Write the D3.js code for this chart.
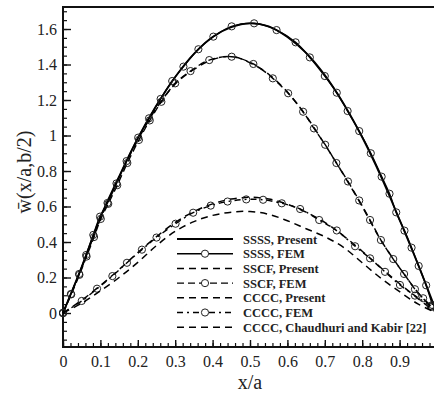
<!DOCTYPE html>
<html>
<head>
<meta charset="utf-8">
<script src="https://d3js.org/d3.v7.min.js"></script>
<style>
  body { margin: 0; background: #fff; }
  text { font-family: "Liberation Serif", "Times New Roman", serif; fill: #222; }
</style>
</head>
<body>
<svg id="chart" width="434" height="394"></svg>
<script>
// deflection along the centre line

// GLOBAL DATA
var xs = [0, 0.05, 0.1, 0.15, 0.2, 0.25, 0.3, 0.35, 0.4, 0.45, 0.5, 0.55, 0.6, 0.65, 0.7, 0.75, 0.8, 0.85, 0.9, 0.95, 1];
var ssssPresent = [0, 0.26, 0.54, 0.77, 0.985, 1.17, 1.33, 1.46, 1.555, 1.61, 1.632, 1.615, 1.555, 1.465, 1.34, 1.18, 0.99, 0.77, 0.525, 0.27, 0];
var sscfPresent = [0, 0.255, 0.53, 0.765, 0.975, 1.155, 1.29, 1.372, 1.428, 1.445, 1.41, 1.345, 1.245, 1.11, 0.95, 0.78, 0.6, 0.41, 0.255, 0.113, 0];
var ccccPresent = [0, 0.072, 0.155, 0.245, 0.34, 0.43, 0.51, 0.572, 0.615, 0.642, 0.652, 0.642, 0.613, 0.568, 0.51, 0.435, 0.348, 0.255, 0.165, 0.08, 0];
var chaudhuri = [0, 0.055, 0.125, 0.2, 0.285, 0.38, 0.46, 0.515, 0.55, 0.568, 0.572, 0.556, 0.52, 0.475, 0.43, 0.37, 0.283, 0.196, 0.12, 0.05, 0];

// FEM points [x, w]
var ssssFem = [[0,0],[0.021,0.107],[0.043,0.22],[0.062,0.327],[0.081,0.44],[0.099,0.543],[0.119,0.62],[0.143,0.73],[0.17,0.856],[0.201,0.988],[0.23,1.097],[0.261,1.206],[0.292,1.307],[0.322,1.388],[0.362,1.486],[0.402,1.557],[0.451,1.615],[0.511,1.632],[0.571,1.594],[0.622,1.525],[0.66,1.44],[0.70,1.335],[0.732,1.241],[0.761,1.138],[0.792,1.025],[0.823,0.9],[0.852,0.768],[0.873,0.672],[0.891,0.567],[0.913,0.464],[0.932,0.368],[0.951,0.265],[0.971,0.156],[0.988,0.045]];
var sscfFem = [[0,0],[0.022,0.105],[0.044,0.215],[0.063,0.318],[0.083,0.428],[0.101,0.53],[0.121,0.615],[0.145,0.72],[0.172,0.845],[0.203,0.975],[0.232,1.085],[0.263,1.19],[0.3,1.294],[0.341,1.363],[0.391,1.425],[0.451,1.444],[0.509,1.403],[0.561,1.322],[0.602,1.238],[0.642,1.134],[0.671,1.04],[0.701,0.948],[0.731,0.845],[0.762,0.741],[0.792,0.634],[0.821,0.524],[0.85,0.411],[0.883,0.304],[0.912,0.22],[0.941,0.134],[0.963,0.083],[0.986,0.035]];
var ccccFem = [[0,0],[0.05,0.068],[0.091,0.137],[0.132,0.208],[0.171,0.283],[0.211,0.357],[0.25,0.425],[0.301,0.503],[0.348,0.565],[0.395,0.605],[0.44,0.628],[0.49,0.64],[0.535,0.638],[0.585,0.618],[0.634,0.586],[0.685,0.524],[0.732,0.465],[0.781,0.376],[0.821,0.308],[0.861,0.232],[0.901,0.158],[0.941,0.098],[0.983,0.04]];

var xTicks = [0, 0.1, 0.2, 0.3, 0.4, 0.5, 0.6, 0.7, 0.8, 0.9];
var yTicks = [0, 0.2, 0.4, 0.6, 0.8, 1, 1.2, 1.4, 1.6];

var legendNames = ['SSSS, Present', 'SSSS, FEM', 'SSCF, Present', 'SSCF, FEM', 'CCCC, Present', 'CCCC, FEM', 'CCCC, Chaudhuri and Kabir [22]'];

// SCALES  (window.top is read only, so no "top" here)
var plotLeft = 63, plotRight = 437, plotTop = 7, plotBottom = 347;
var x = d3.scaleLinear().domain([0, 1]).range([plotLeft, plotRight]);
var y = d3.scaleLinear().domain([-0.1915, 1.724]).range([plotBottom, plotTop]);

var svg = d3.select('#chart');

// minor ticks, pointing inward
var xMinor = d3.range(0, 1.0001, 0.02);
var yMinor = d3.range(-0.15, 1.70001, 0.05);

var xAxis = d3.axisBottom(x).tickValues(xTicks).tickSize(-7).tickPadding(9)
    .tickFormat(function(d){ return d === 0 ? '0' : d3.format('.1f')(d); });
var yAxis = d3.axisLeft(y).tickValues(yTicks).tickSize(-8).tickPadding(6)
    .tickFormat(function(d){ return d === 0 || d === 1 ? String(d) : d3.format('.1f')(d); });

svg.append('g').attr('transform', 'translate(0,' + plotBottom + ')')
    .call(d3.axisBottom(x).tickValues(xMinor).tickSize(-4).tickFormat(''))
    .call(function(g){ g.select('.domain').remove(); })
    .selectAll('line').attr('stroke', '#111').attr('stroke-width', 1.2);
svg.append('g').attr('transform', 'translate(' + plotLeft + ',0)')
    .call(d3.axisLeft(y).tickValues(yMinor).tickSize(-4).tickFormat(''))
    .call(function(g){ g.select('.domain').remove(); })
    .selectAll('line').attr('stroke', '#111').attr('stroke-width', 1.2);

var gx = svg.append('g').attr('transform', 'translate(0,' + plotBottom + ')').call(xAxis);
var gy = svg.append('g').attr('transform', 'translate(' + plotLeft + ',0)').call(yAxis);
[gx, gy].forEach(function(g){
    g.select('.domain').remove();
    g.selectAll('line').attr('stroke', '#111').attr('stroke-width', 1.4);
    g.selectAll('text').attr('font-size', 16).attr('fill', '#333')
        .style('font-family', '"Liberation Serif", serif');
});

// frame
svg.append('rect').attr('x', plotLeft).attr('y', plotTop)
    .attr('width', plotRight - plotLeft).attr('height', plotBottom - plotTop)
    .attr('fill', 'none').attr('stroke', '#111').attr('stroke-width', 2);

// CURVES
var line = d3.line()
    .x(function(d){ return x(d[0]); })
    .y(function(d){ return y(d[1]); })
    .curve(d3.curveCatmullRom);

function zipX(vals){
    return xs.map(function(v, i){ return [v, vals[i]]; });
}

var series = [
    { data: zipX(ssssPresent), dash: null, width: 1.8, marks: false },
    { data: ssssFem, dash: null, width: 1.5, marks: true },
    { data: zipX(sscfPresent), dash: '7,5', width: 1.5, marks: false },
    { data: sscfFem, dash: '7,4', width: 1.4, marks: true },
    { data: zipX(ccccPresent), dash: '7,5', width: 1.5, marks: false },
    { data: ccccFem, dash: '6,4,2,4', width: 1.4, marks: true },
    { data: zipX(chaudhuri), dash: '7,5', width: 1.5, marks: false }
];

series.forEach(function(s){
    svg.append('path').datum(s.data)
        .attr('d', line)
        .attr('fill', 'none').attr('stroke', '#000')
        .attr('stroke-width', s.width)
        .attr('stroke-dasharray', s.dash);
    if (s.marks) {
        svg.append('g').selectAll('circle').data(s.data).enter().append('circle')
            .attr('cx', function(d){ return x(d[0]); })
            .attr('cy', function(d){ return y(d[1]); })
            .attr('r', 3.6)
            .attr('fill', 'none').attr('stroke', '#222').attr('stroke-width', 1);
    }
});

// LEGEND
var lg = svg.append('g');
legendNames.forEach(function(name, i){
    var ly = 239 + i * 14.7;
    var s = series[i];
    lg.append('line').attr('x1', 177).attr('x2', 233).attr('y1', ly).attr('y2', ly)
        .attr('stroke', '#000').attr('stroke-width', s.width)
        .attr('stroke-dasharray', s.dash);
    if (s.marks) {
        lg.append('circle').attr('cx', 205).attr('cy', ly).attr('r', 3.6)
            .attr('fill', '#fff').attr('stroke', '#222').attr('stroke-width', 1);
    }
    lg.append('text').attr('x', 243).attr('y', ly + 4.5)
        .attr('font-size', 12.5).attr('font-weight', 'bold').attr('fill', '#333')
        .text(name);
});

// AXIS TITLES
svg.append('text').attr('x', 250).attr('y', 389).attr('text-anchor', 'middle')
    .attr('font-size', 20).attr('fill', '#333').text('x/a');
svg.append('text').attr('transform', 'translate(31,172) rotate(-90)')
    .attr('text-anchor', 'middle').attr('font-size', 20).attr('fill', '#333')
    .text('w\u0304(x/a,b/2)');
</script>
</body>
</html>
